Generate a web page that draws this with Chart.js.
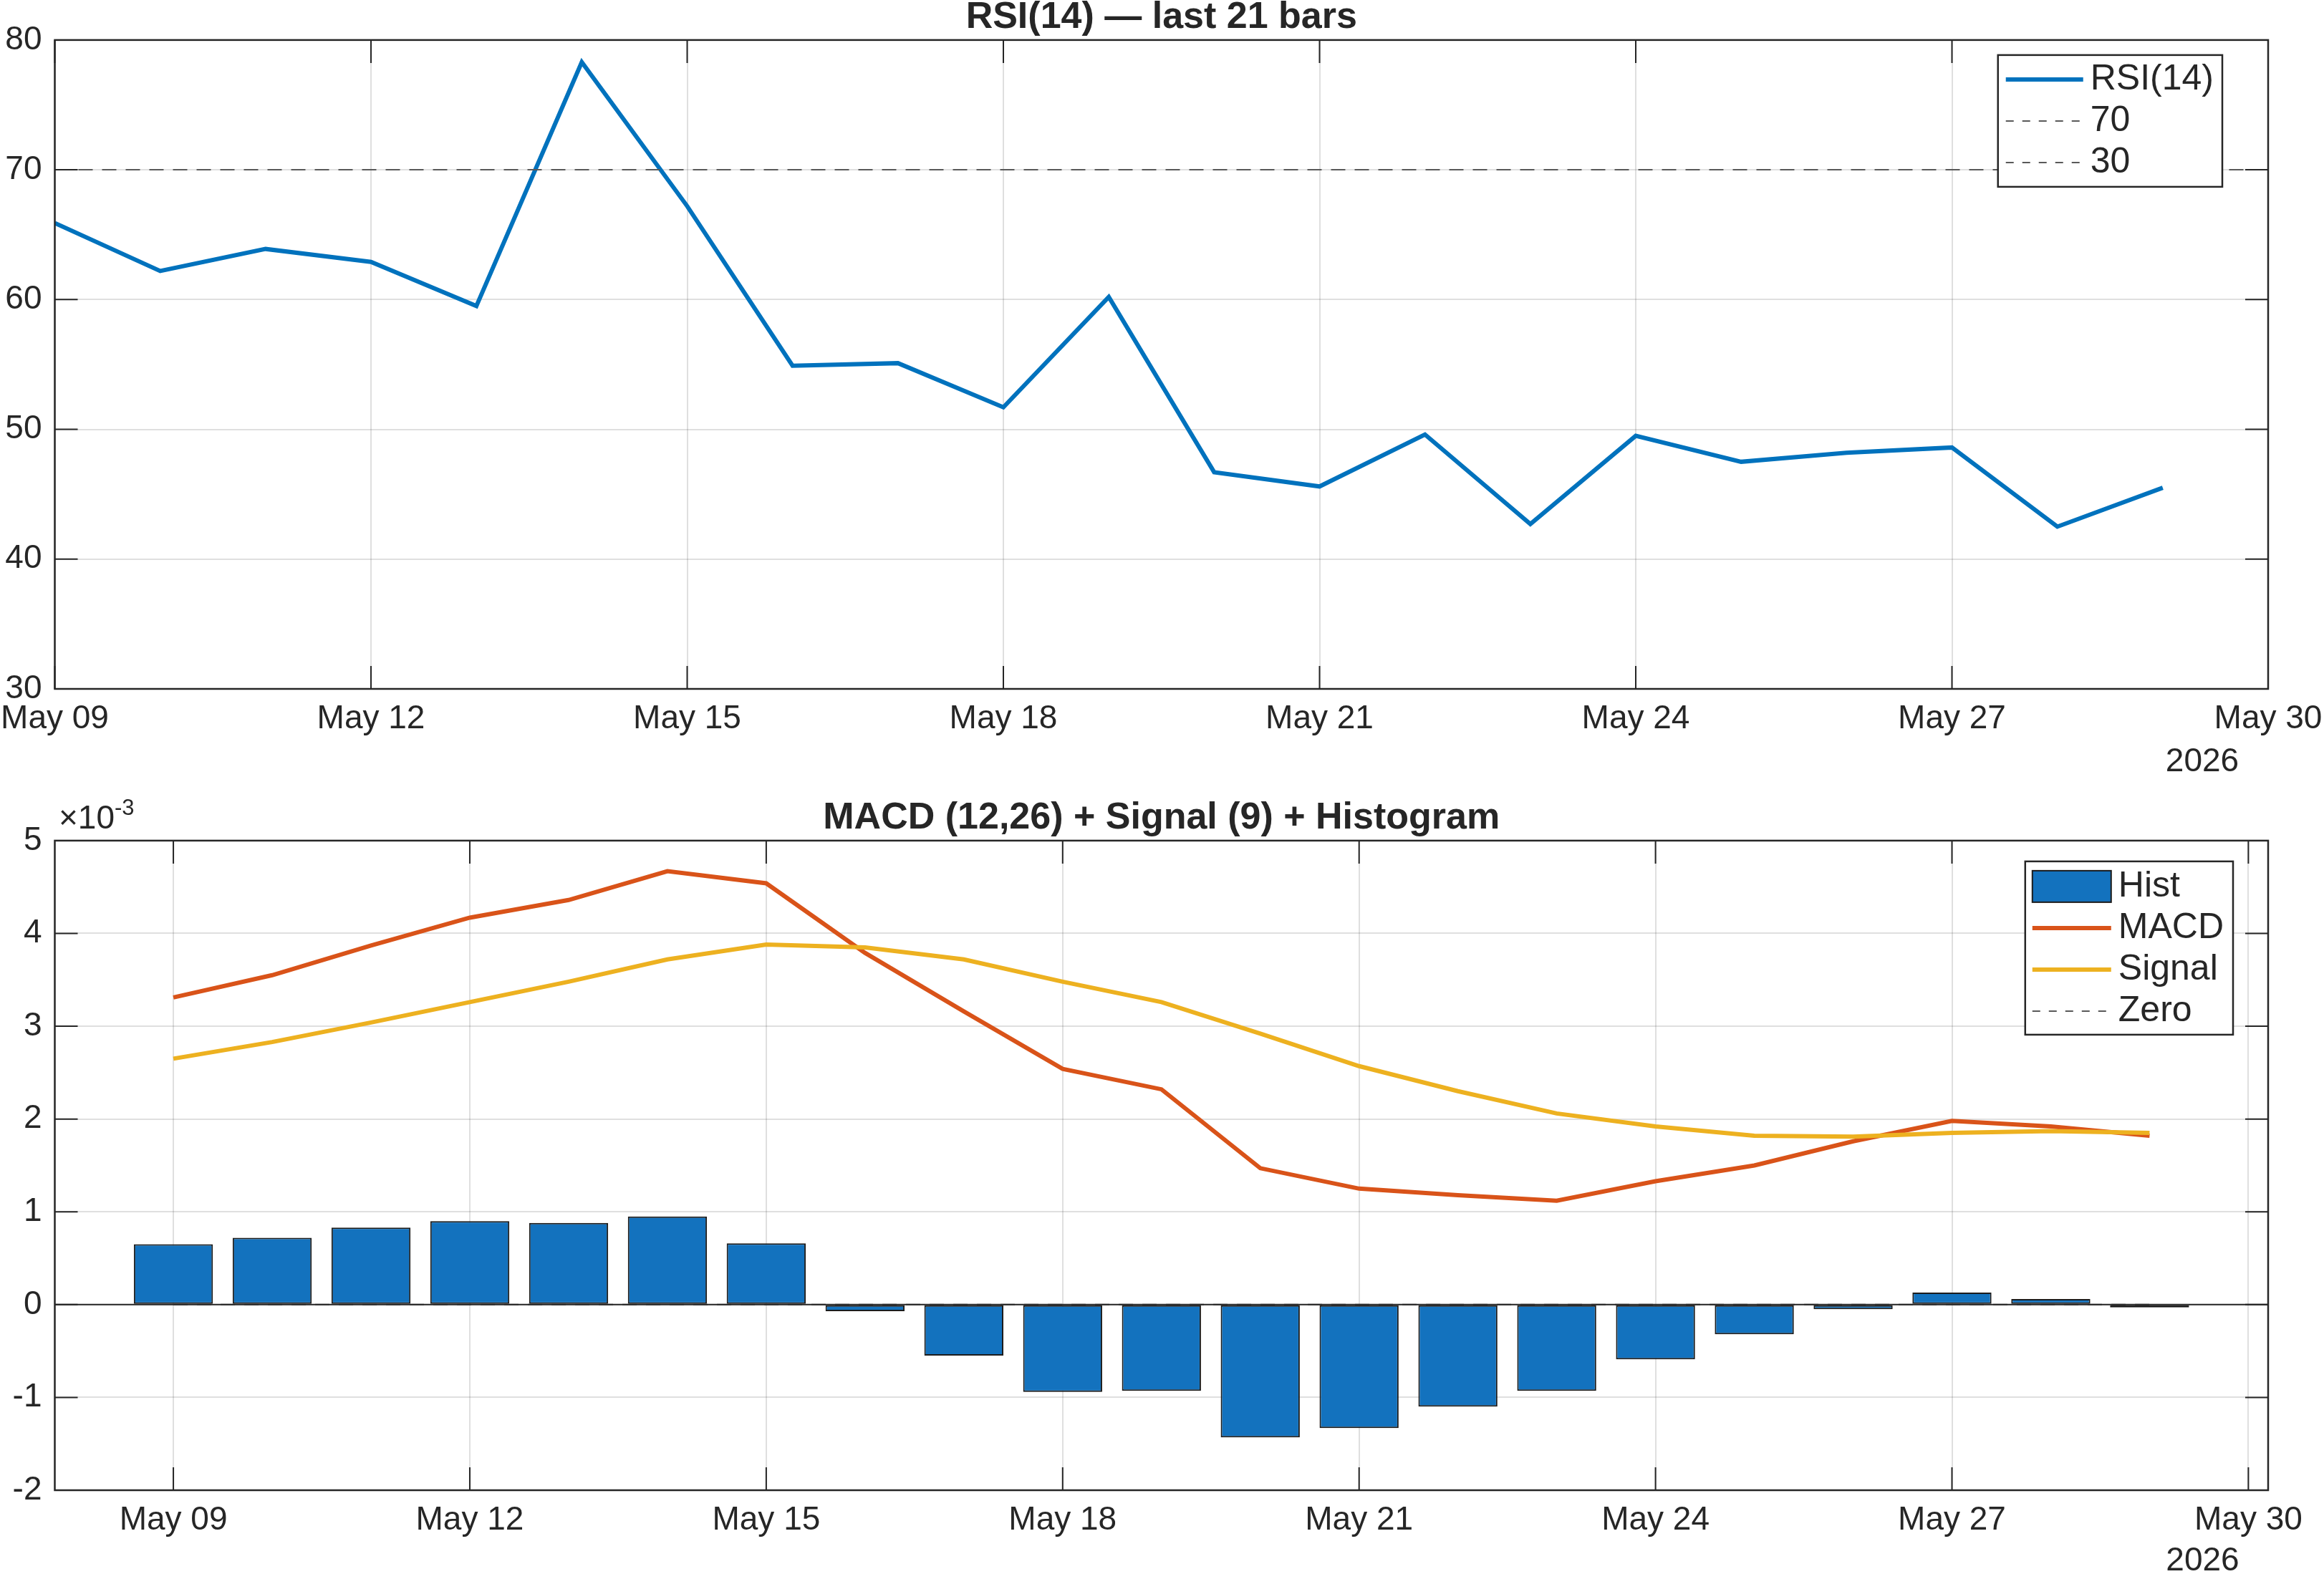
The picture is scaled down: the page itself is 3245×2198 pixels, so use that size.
<!DOCTYPE html>
<html>
<head>
<meta charset="utf-8">
<script src="https://cdn.jsdelivr.net/npm/chart.js@4.4.1/dist/chart.umd.min.js"></script>
<style>
html,body{margin:0;padding:0;background:#ffffff;}
#wrap{position:relative;width:3245px;height:2198px;background:#ffffff;}
canvas{position:absolute;left:0;}
</style>
</head>
<body>
<div id="wrap">
<canvas id="c1" width="3245" height="1099" style="top:0px;width:3245px;height:1099px"></canvas>
<canvas id="c2" width="3245" height="1099" style="top:1099px;width:3245px;height:1099px"></canvas>
</div>
<script>
// ---------------- DATA ----------------
const dayLabels = ['May 09','May 10','May 11','May 12','May 13','May 14','May 15','May 16','May 17','May 18','May 19',
                   'May 20','May 21','May 22','May 23','May 24','May 25','May 26','May 27','May 28','May 29'];
const dayOffsets = [0,1,2,3,4,5,6,7,8,9,10,11,12,13,14,15,16,17,18,19,20];

const rsi = [65.9, 62.2, 63.9, 62.9, 59.5, 78.3, 67.2, 54.9, 55.1, 51.7, 60.2,
             46.7, 45.6, 49.6, 42.7, 49.5, 47.5, 48.2, 48.6, 42.5, 45.5];
const rsiUpper = 70;
const rsiLower = 30;

const macd   = [0.00331, 0.00355, 0.00387, 0.00417, 0.00436, 0.00467, 0.00454, 0.00379, 0.00316, 0.00254, 0.00232,
                0.00147, 0.00125, 0.00118, 0.00112, 0.00133, 0.00150, 0.00176, 0.00198, 0.00192, 0.00182];
const signal = [0.00265, 0.00283, 0.00304, 0.00326, 0.00348, 0.00372, 0.00388, 0.00385, 0.00372, 0.00348, 0.00326,
                0.00292, 0.00257, 0.00230, 0.00206, 0.00192, 0.00182, 0.00181, 0.00185, 0.00187, 0.00185];
const hist   = [0.00065, 0.00072, 0.00083, 0.00090, 0.00088, 0.00095, 0.00066, -0.00007, -0.00055, -0.00094, -0.00093,
                -0.00143, -0.00133, -0.00110, -0.00093, -0.00059, -0.00032, -0.00005, 0.00013, 0.00006, -0.00003];
const macdZero = 0;

const xTickDays   = [0, 3, 6, 9, 12, 15, 18, 21];
const xTickLabels = ['May 09','May 12','May 15','May 18','May 21','May 24','May 27','May 30'];
const yearLabel = '2026';
const macdExponentBase = '\u00d710';
const macdExponent = '-3';
const macdScale = 1000;

const rsiTitle  = 'RSI(14) \u2014 last 21 bars';
const macdTitle = 'MACD (12,26) + Signal (9) + Histogram';

// ---------------- STYLE ----------------
const FONT = "'Liberation Sans', Arial, Helvetica, sans-serif";
const AXIS = '#262626';
const GRID = 'rgba(38,38,38,0.15)';
const BLUE = '#0072BD';
const BAR  = '#1372BE';
const ORANGE = '#D95319';
const YELLOW = '#EDB120';
const DASH = '#595959';

Chart.defaults.font.family = FONT;
Chart.defaults.color = AXIS;
Chart.defaults.animation = false;

const pts = (vals) => dayOffsets.map((d, i) => ({x: d, y: vals[i]}));
const hline = (v, x0, x1) => [{x: x0, y: v}, {x: x1, y: v}];

// ---------------- PLUGIN (box, inner ticks, legend, extra labels) ----------------
const matlabAxes = {
  id: 'matlabAxes',
  afterDatasetsDraw(chart, args, opts) {
    const ctx = chart.ctx, a = chart.chartArea, x = chart.scales.x, y = chart.scales.y;
    ctx.save();
    ctx.setLineDash([]);
    if (opts.baseline !== undefined && opts.baseline !== null) {
      const py = y.getPixelForValue(opts.baseline);
      ctx.strokeStyle = AXIS; ctx.lineWidth = 2;
      ctx.beginPath(); ctx.moveTo(a.left, py); ctx.lineTo(a.right, py); ctx.stroke();
    }
    const tl = opts.tickLength;
    ctx.strokeStyle = AXIS; ctx.lineWidth = 2;
    ctx.beginPath();
    x.ticks.forEach(t => {
      const px = x.getPixelForValue(t.value);
      ctx.moveTo(px, a.top); ctx.lineTo(px, a.top + tl);
      ctx.moveTo(px, a.bottom); ctx.lineTo(px, a.bottom - tl);
    });
    y.ticks.forEach(t => {
      const py = y.getPixelForValue(t.value);
      ctx.moveTo(a.left, py); ctx.lineTo(a.left + tl, py);
      ctx.moveTo(a.right, py); ctx.lineTo(a.right - tl, py);
    });
    ctx.stroke();
    ctx.lineWidth = 2.5;
    ctx.strokeRect(a.left, a.top, a.right - a.left, a.bottom - a.top);
    ctx.restore();
  },
  afterDraw(chart, args, opts) {
    const ctx = chart.ctx, a = chart.chartArea;
    ctx.save();
    if (opts.year) {
      ctx.font = `46px ${FONT}`;
      ctx.fillStyle = AXIS;
      ctx.textAlign = 'center';
      ctx.textBaseline = 'alphabetic';
      ctx.fillText(opts.year, a.right + opts.yearDx, a.bottom + opts.yearDy);
    }
    if (opts.expBase) {
      ctx.fillStyle = AXIS;
      ctx.textAlign = 'left';
      ctx.textBaseline = 'alphabetic';
      ctx.font = `46px ${FONT}`;
      const bx = a.left + 5.5, by = a.top - 17;
      ctx.fillText(opts.expBase, bx, by);
      const w = ctx.measureText(opts.expBase).width;
      ctx.font = `31px ${FONT}`;
      ctx.fillText(opts.exp, bx + w, by - 19);
    }
    const L = opts.legend;
    if (L) {
      const ds = chart.data.datasets;
      ctx.font = `${L.fontSize}px ${FONT}`;
      const maxW = Math.max(...ds.map(d => ctx.measureText(d.label).width));
      const w = L.padL + L.sample + L.gap + maxW + L.padR;
      const h = L.rowH * ds.length + L.padV;
      const bx = a.right - L.right - w, by = a.top + L.top;
      ctx.setLineDash([]);
      ctx.fillStyle = '#ffffff';
      ctx.fillRect(bx, by, w, h);
      ctx.strokeStyle = AXIS; ctx.lineWidth = 2.5;
      ctx.strokeRect(bx, by, w, h);
      ds.forEach((d, i) => {
        const cy = by + L.first + i * L.rowH;
        const sx = bx + L.padL;
        if (d.type === 'bar') {
          ctx.setLineDash([]);
          ctx.fillStyle = d.backgroundColor;
          ctx.fillRect(sx, cy - 22, L.sample, 44);
          ctx.strokeStyle = d.borderColor; ctx.lineWidth = 2;
          ctx.strokeRect(sx, cy - 22, L.sample, 44);
        } else {
          ctx.setLineDash(d.borderDash ? L.legendDash : []);
          ctx.strokeStyle = d.borderColor; ctx.lineWidth = d.borderWidth;
          ctx.beginPath(); ctx.moveTo(sx, cy); ctx.lineTo(sx + L.sample, cy); ctx.stroke();
        }
        ctx.setLineDash([]);
        ctx.fillStyle = AXIS;
        ctx.textAlign = 'left';
        ctx.textBaseline = 'middle';
        ctx.font = `${L.fontSize}px ${FONT}`;
        ctx.fillText(d.label, sx + L.sample + L.gap, cy);
      });
    }
    ctx.restore();
  }
};

function xScale(min, max, height) {
  return {
    type: 'linear', min: min, max: max, offset: false,
    afterBuildTicks: s => { s.ticks = xTickDays.map(v => ({value: v})); },
    afterFit: s => { s.height = height; s.paddingLeft = 0; s.paddingRight = 0; },
    grid: {color: GRID, lineWidth: 2, drawTicks: false, offset: false},
    border: {display: false},
    ticks: {
      padding: 15, color: AXIS, maxRotation: 0, minRotation: 0, autoSkip: false,
      font: {size: 46, lineHeight: 1.2},
      callback: (v) => { const k = xTickDays.indexOf(v); return k >= 0 ? xTickLabels[k] : ''; }
    }
  };
}
function yScale(min, max, step, cb) {
  return {
    type: 'linear', min: min, max: max,
    afterFit: s => { s.width = 76.5; s.paddingTop = 0; s.paddingBottom = 0; },
    grid: {color: GRID, lineWidth: 2, drawTicks: false},
    border: {display: false},
    ticks: {stepSize: step, padding: 18, color: AXIS, font: {size: 46}, callback: cb}
  };
}
const titleOpts = (text) => ({
  display: true, text: text, color: AXIS, fullSize: false,
  font: {size: 52, weight: 'bold', lineHeight: 0.94},
  padding: {top: 0, bottom: 7}
});

// ---------------- CHART 1: RSI ----------------
new Chart(document.getElementById('c1'), {
  type: 'line',
  data: {
    datasets: [
      {label: 'RSI(14)', data: pts(rsi), borderColor: BLUE, borderWidth: 6, pointRadius: 0, tension: 0, fill: false, order: 2},
      {label: String(rsiUpper), data: hline(rsiUpper, xTickDays[0], xTickDays[xTickDays.length - 1]), borderColor: DASH, borderWidth: 2, borderDash: [20, 13], pointRadius: 0, fill: false, order: 1},
      {label: String(rsiLower), data: hline(rsiLower, xTickDays[0], xTickDays[xTickDays.length - 1]), borderColor: DASH, borderWidth: 2, borderDash: [20, 13], pointRadius: 0, fill: false, order: 0}
    ]
  },
  options: {
    responsive: false, devicePixelRatio: 1, animation: false,
    layout: {padding: {top: 0, left: 0, right: 78, bottom: 0}},
    scales: {
      x: xScale(0, 21, 137),
      y: yScale(30, 80, 10)
    },
    plugins: {
      legend: {display: false},
      tooltip: {enabled: false},
      title: titleOpts(rsiTitle),
      matlabAxes: {
        tickLength: 32, year: yearLabel, yearDx: -92, yearDy: 115,
        legend: {fontSize: 50, right: 64, top: 21, padL: 11, sample: 108, gap: 10, padR: 12, rowH: 58, first: 34, padV: 10, legendDash: [11, 12]}
      }
    }
  },
  plugins: [matlabAxes]
});

// ---------------- CHART 2: MACD ----------------
new Chart(document.getElementById('c2'), {
  type: 'bar',
  data: {
    datasets: [
      {type: 'bar', label: 'Hist', data: pts(hist), backgroundColor: BAR, borderColor: '#1c1c1c', borderWidth: 2, borderSkipped: false,
       barPercentage: 0.8, categoryPercentage: 1.0, order: 4},
      {type: 'line', label: 'MACD', data: pts(macd), borderColor: ORANGE, borderWidth: 6, pointRadius: 0, tension: 0, fill: false, order: 2},
      {type: 'line', label: 'Signal', data: pts(signal), borderColor: YELLOW, borderWidth: 6, pointRadius: 0, tension: 0, fill: false, order: 1},
      {type: 'line', label: 'Zero', data: hline(macdZero, dayOffsets[0], dayOffsets[dayOffsets.length - 1]), borderColor: DASH, borderWidth: 2, borderDash: [20, 13], pointRadius: 0, fill: false, order: 3}
    ]
  },
  options: {
    responsive: false, devicePixelRatio: 1, animation: false,
    layout: {padding: {top: 19, left: 0, right: 78, bottom: 0}},
    scales: {
      x: xScale(-1.2, 21.2, 117),
      y: yScale(-0.002, 0.005, 0.001, v => String(Math.round(v * macdScale)))
    },
    plugins: {
      legend: {display: false},
      tooltip: {enabled: false},
      title: titleOpts(macdTitle),
      matlabAxes: {
        tickLength: 32, baseline: macdZero, year: yearLabel, yearDx: -91.5, yearDy: 112,
        expBase: macdExponentBase, exp: macdExponent,
        legend: {fontSize: 50, right: 49, top: 29, padL: 10, sample: 110, gap: 10, padR: 13, rowH: 58, first: 35, padV: 10, legendDash: [11, 12]}
      }
    }
  },
  plugins: [matlabAxes]
});
</script>
</body>
</html>
